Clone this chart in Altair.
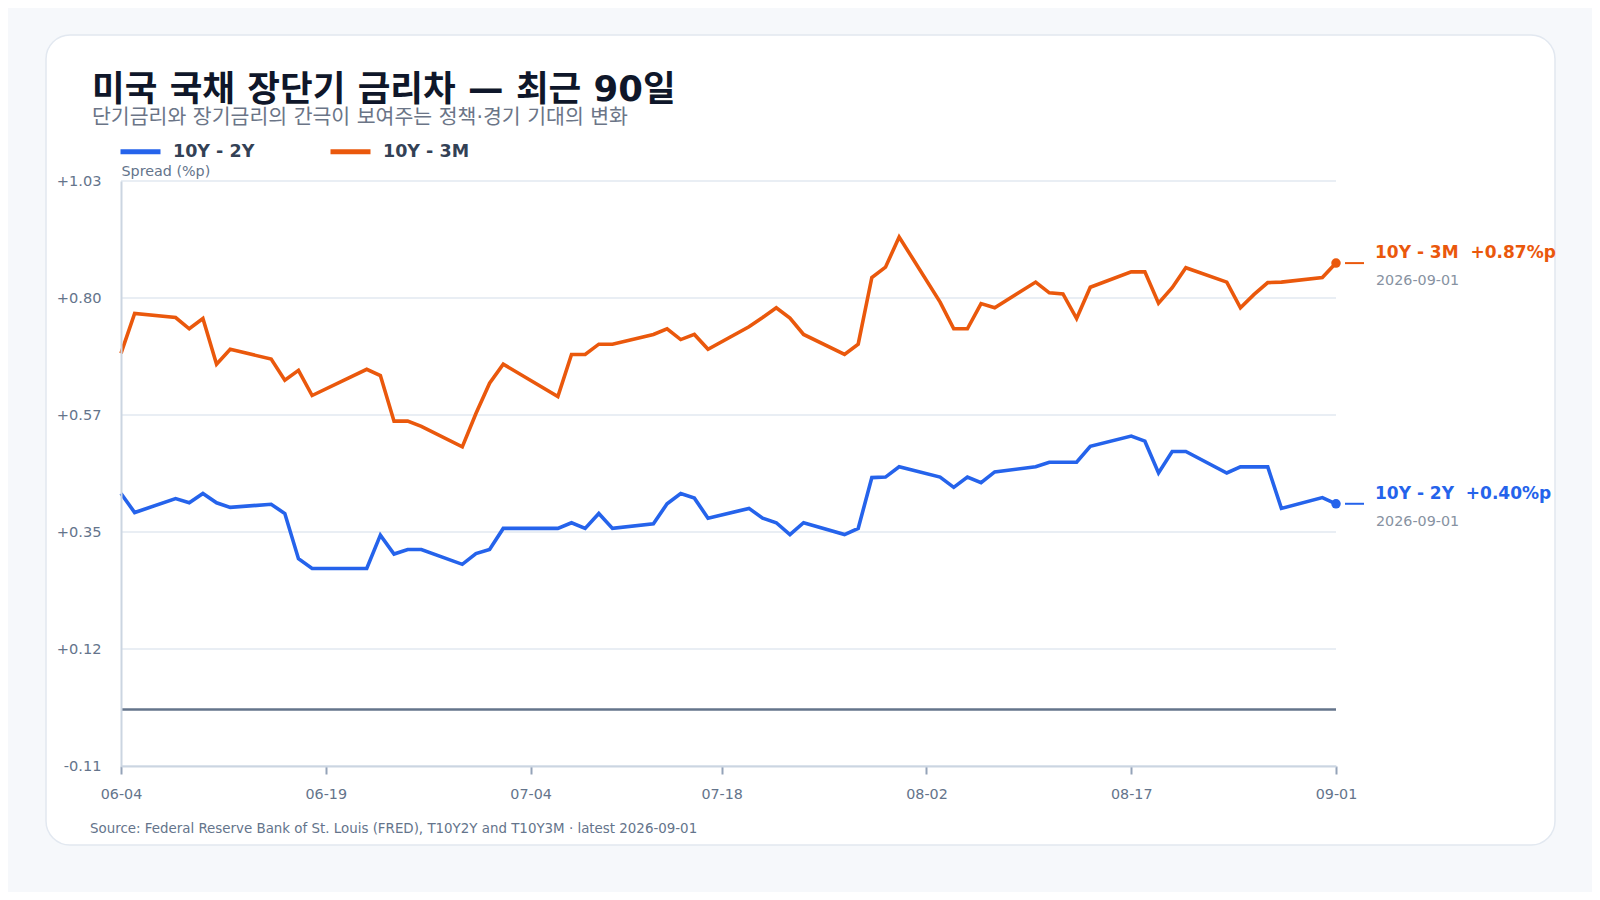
import altair as alt
import pandas as pd

FONT = "DejaVu Sans, Noto Sans CJK KR, sans-serif"

title_text = "미국 국채 장단기 금리차 — 최근 90일"
subtitle_text = "단기금리와 장기금리의 간극이 보여주는 정책·경기 기대의 변화"
source_text = "Source: Federal Reserve Bank of St. Louis (FRED), T10Y2Y and T10Y3M · latest 2026-09-01"
y_title = "Spread (%p)"

dates = [
    "2026-06-04", "2026-06-05", "2026-06-08", "2026-06-09", "2026-06-10", "2026-06-11",
    "2026-06-12", "2026-06-15", "2026-06-16", "2026-06-17", "2026-06-18", "2026-06-22",
    "2026-06-23", "2026-06-24", "2026-06-25", "2026-06-26", "2026-06-29", "2026-06-30",
    "2026-07-01", "2026-07-02", "2026-07-06", "2026-07-07", "2026-07-08", "2026-07-09",
    "2026-07-10", "2026-07-13", "2026-07-14", "2026-07-15", "2026-07-16", "2026-07-17",
    "2026-07-20", "2026-07-21", "2026-07-22", "2026-07-23", "2026-07-24", "2026-07-27",
    "2026-07-28", "2026-07-29", "2026-07-30", "2026-07-31", "2026-08-03", "2026-08-04",
    "2026-08-05", "2026-08-06", "2026-08-07", "2026-08-10", "2026-08-11", "2026-08-12",
    "2026-08-13", "2026-08-14", "2026-08-17", "2026-08-18", "2026-08-19", "2026-08-20",
    "2026-08-21", "2026-08-24", "2026-08-25", "2026-08-26", "2026-08-27", "2026-08-28",
    "2026-08-31", "2026-09-01",
]

spread_10y2y = [
    0.421, 0.384, 0.411, 0.403, 0.421, 0.403, 0.394, 0.400, 0.382, 0.294, 0.275, 0.275,
    0.340, 0.303, 0.312, 0.312, 0.283, 0.304,
    0.312, 0.353, 0.353, 0.364, 0.353, 0.382, 0.353, 0.362, 0.401, 0.421, 0.412, 0.373,
    0.392, 0.373, 0.364, 0.341, 0.364, 0.341, 0.353, 0.452, 0.453, 0.473,
    0.453, 0.433, 0.453, 0.442, 0.463, 0.473, 0.482, 0.482, 0.482, 0.513, 0.533, 0.523,
    0.461, 0.503, 0.503, 0.461, 0.473, 0.473, 0.473, 0.392, 0.413,
    0.401,
]

spread_10y3m = [
    0.694, 0.772, 0.764, 0.742, 0.762, 0.673, 0.702, 0.683, 0.642, 0.661, 0.612, 0.663,
    0.651, 0.562, 0.562, 0.552, 0.512, 0.577,
    0.636, 0.673, 0.610, 0.692, 0.692, 0.712, 0.712, 0.731, 0.742, 0.721, 0.731, 0.702,
    0.746, 0.764, 0.783, 0.763, 0.731, 0.692, 0.712, 0.842, 0.862, 0.921,
    0.794, 0.742, 0.742, 0.791, 0.783, 0.833, 0.812, 0.810, 0.762, 0.823, 0.853, 0.853,
    0.792, 0.822, 0.861, 0.833, 0.783, 0.809, 0.832, 0.833, 0.842,
    0.870,
]

series_names = ["10Y - 2Y", "10Y - 3M"]
series_colors = ["#2563eb", "#ea580c"]
y_ticks = [-0.11, 0.118, 0.346, 0.574, 0.802, 1.03]
x_ticks = ["2026-06-04", "2026-06-19", "2026-07-04", "2026-07-18", "2026-08-02", "2026-08-17", "2026-09-01"]


def dt(s):
    y, m, d = (int(p) for p in s.split("-"))
    return alt.DateTime(year=y, month=m, date=d)


rows = []
for name, vals in zip(series_names, [spread_10y2y, spread_10y3m]):
    for d, v in zip(dates, vals):
        rows.append({"date": d + "T00:00:00", "series": name, "value": v})
df = pd.DataFrame(rows)

last_df = pd.DataFrame({
    "date": [dates[-1] + "T00:00:00"] * 2,
    "day": [dates[-1]] * 2,
    "series": series_names,
    "value": [spread_10y2y[-1], spread_10y3m[-1]],
})

y_scale = alt.Scale(domain=[y_ticks[0], y_ticks[-1]], nice=False, zero=False)

x_enc = alt.X(
    "date:T",
    scale=alt.Scale(domain=[dt(dates[0]), dt(dates[-1])], nice=False),
    axis=alt.Axis(
        values=[dt(t) for t in x_ticks], format="%m-%d", title=None, grid=False,
        domainColor="#cbd5e1", domainWidth=2, tickColor="#94a3b8", tickWidth=2, tickSize=8,
        labelColor="#64748b", labelFontSize=14.3, labelFontWeight="normal", labelPadding=13,
        labelFont=FONT, labelFlush=False, zindex=1,
    ),
)
y_enc = alt.Y(
    "value:Q",
    scale=y_scale,
    axis=alt.Axis(
        values=y_ticks,
        labelExpr="(datum.value >= 0 ? '+' : '-') + format(abs(datum.value), '.2f')",
        title=y_title, titleAngle=0, titleAlign="left", titleBaseline="alphabetic",
        titleX=0, titleY=-6, titleFontWeight="normal", titleColor="#64748b", titleFontSize=14.3,
        titleFont=FONT, grid=False, ticks=False, tickSize=0,
        domainColor="#cbd5e1", domainWidth=2, labelPadding=20, labelColor="#64748b",
        labelFontSize=14.6, labelFontWeight="normal", labelFont=FONT, zindex=1,
    ),
)
color_enc = alt.Color(
    "series:N",
    scale=alt.Scale(domain=series_names, range=series_colors),
    legend=alt.Legend(
        title=None, orient="none", legendX=-3, legendY=-52, direction="horizontal",
        symbolType="stroke", symbolSize=1600, symbolStrokeWidth=5, labelOffset=10,
        labelFontSize=17.5, labelFontWeight="bold", labelColor="#334155", labelFont=FONT,
        columnPadding=65,
    ),
)

# card behind everything
card = alt.Chart(pd.DataFrame({"k": [0]})).mark_rect(
    fill="white", stroke="#e2e8f0", strokeWidth=1.5, cornerRadius=24
).encode(
    x=alt.value(-75), x2=alt.value(1434), y=alt.value(-146), y2=alt.value(664)
)

grid = alt.Chart(pd.DataFrame({"value": y_ticks})).mark_rule(
    color="#e2e8f0", strokeWidth=1.5
).encode(y=alt.Y("value:Q", scale=y_scale))

zero = alt.Chart(pd.DataFrame({"value": [0.0]})).mark_rule(
    color="#64748b", strokeWidth=2.5
).encode(y=alt.Y("value:Q", scale=y_scale))

lines = alt.Chart(df).mark_line(strokeWidth=3.6).encode(x=x_enc, y=y_enc, color=color_enc)

base_last = alt.Chart(last_df).transform_calculate(
    label="datum.series + '\u00a0\u00a0' + (datum.value >= 0 ? '+' : '-') + format(abs(datum.value), '.2f') + '%p'"
)

dots = base_last.mark_point(filled=True, size=90, opacity=1).encode(
    x="date:T", y="value:Q", color=alt.Color("series:N", legend=None)
)
dash = base_last.mark_rule(xOffset=9, x2Offset=28, strokeWidth=2).encode(
    x="date:T", x2="date:T", y="value:Q", color=alt.Color("series:N", legend=None)
)
end_label = base_last.mark_text(
    align="left", baseline="middle", dx=39, dy=-10, fontSize=17, fontWeight="bold", font=FONT
).encode(x="date:T", y="value:Q", text="label:N", color=alt.Color("series:N", legend=None))
end_date = base_last.mark_text(
    align="left", baseline="middle", dx=40, dy=18, fontSize=14.3, fontWeight="normal",
    color="#8792a2", font=FONT
).encode(x="date:T", y="value:Q", text="day:N")

title = alt.Chart(pd.DataFrame({"t": [title_text]})).mark_text(
    align="left", baseline="middle", fontSize=35.5, fontWeight="bold", color="#0f172a", font=FONT
).encode(x=alt.value(-29), y=alt.value(-91), text="t:N")
subtitle = alt.Chart(pd.DataFrame({"t": [subtitle_text]})).mark_text(
    align="left", baseline="middle", fontSize=20.5, fontWeight="normal", color="#6b7587", font=FONT
).encode(x=alt.value(-29), y=alt.value(-63), text="t:N")
source = alt.Chart(pd.DataFrame({"t": [source_text]})).mark_text(
    align="left", baseline="middle", fontSize=13.4, fontWeight="normal", color="#64748b", font=FONT
).encode(x=alt.value(-31), y=alt.value(648), text="t:N")

chart = alt.layer(
    card, grid, zero, lines, dash, dots, end_label, end_date, title, subtitle, source
).properties(
    width=1215, height=585,
    padding={"left": 113, "top": 173, "right": 256, "bottom": 126},
    autosize=alt.AutoSizeParams(type="none"),
).configure(
    background="#f6f8fb", font=FONT
).configure_view(stroke=None)

chart.save("out.html", embed_options={"renderer": "svg", "actions": False})
